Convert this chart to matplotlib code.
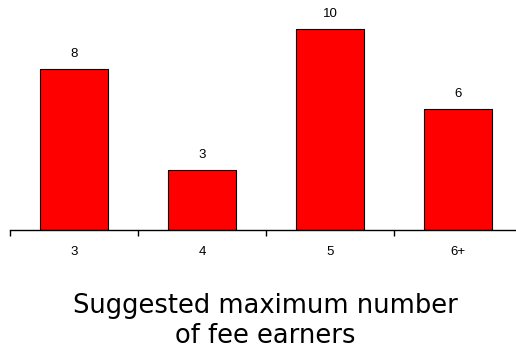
import matplotlib
matplotlib.use("Agg")
import numpy as np
from matplotlib import pyplot as plt

categories = ["3", "4", "5", "6+"]
counts = [8, 3, 10, 6]

fig = plt.figure(figsize=(5.16, 3.49), dpi=100)
W, H = 516.0, 349.0

# axes runs from the left tick to one category past the right edge
ax = fig.add_axes([10 / W, (H - 230) / H, 512 / W, 230 / H])
x = np.arange(len(categories))
ax.bar(x, counts, width=0.53, color="#ff0000", edgecolor="black", linewidth=0.8)
ax.set_xlim(-0.5, len(categories) - 0.5)
ax.set_ylim(0, 230 / 20.1)

for xi, v in zip(x, counts):
    ax.text(xi, v + 0.45, str(v), ha="center", va="bottom",
            family="Liberation Sans", fontsize=9.5)

for side in ["top", "right", "left"]:
    ax.spines[side].set_visible(False)
ax.spines["bottom"].set_linewidth(1.0)
ax.set_yticks([])
ax.set_xticks(np.arange(len(categories) + 1) - 0.5, minor=False)
ax.set_xticklabels([])
ax.tick_params(axis="x", direction="out", length=4, width=1.0)
for xi, lab in zip(x, categories):
    ax.text(xi, -1.1, lab, ha="center", va="center",
            family="Liberation Sans", fontsize=9.5)

fig.text(265.5 / W, 1 - 313 / H, "Suggested maximum number", ha="center",
         va="baseline", family="DejaVu Sans", fontsize=18.5)
fig.text(265.5 / W, 1 - 343 / H, "of fee earners", ha="center",
         va="baseline", family="DejaVu Sans", fontsize=18.5)

fig.savefig("out.png", dpi=100)
